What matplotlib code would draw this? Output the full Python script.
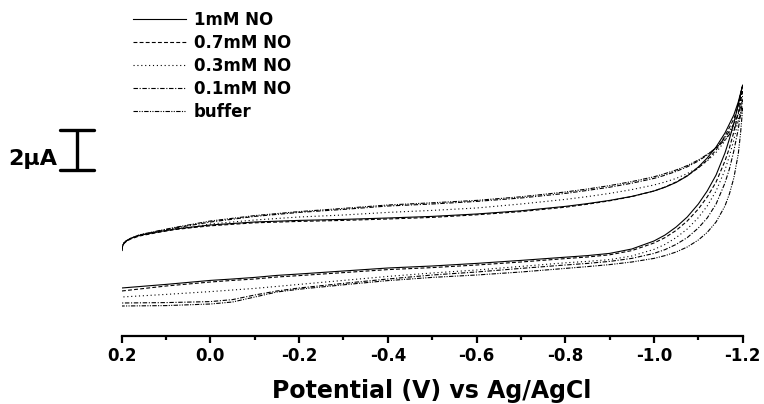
import matplotlib
matplotlib.use("Agg")
import matplotlib.pyplot as plt
from matplotlib.ticker import MultipleLocator
from matplotlib.transforms import blended_transform_factory

# ─── data (potential in V, current in µA, arbitrary offset) ─────
labels = ["1mM NO", "0.7mM NO", "0.3mM NO", "0.1mM NO", "buffer"]

# forward sweep 0.2 -> -1.2 V (upper branch)
E_fwd = [0.2, 0.198, 0.195, 0.19, 0.18, 0.16, 0.12, 0.08, 0.04, 0.0,
         -0.1, -0.2, -0.3, -0.4, -0.5, -0.6, -0.7, -0.8, -0.85, -0.9,
         -0.95, -1.0, -1.025, -1.05, -1.075, -1.1, -1.12, -1.14, -1.16,
         -1.18, -1.19, -1.2]
# return sweep -1.2 -> 0.2 V (lower branch)
E_rev = [-1.2, -1.195, -1.19, -1.18, -1.17, -1.16, -1.14, -1.12, -1.1,
         -1.075, -1.05, -1.025, -1.0, -0.95, -0.9, -0.85, -0.8, -0.7, -0.6,
         -0.5, -0.4, -0.3, -0.2, -0.15, -0.1, -0.05, 0.0, 0.1, 0.2]

i_fwd_1mM = [2.00, 2.20, 2.35, 2.45, 2.58, 2.73, 2.90, 3.05, 3.15, 3.25,
             3.40, 3.48, 3.53, 3.60, 3.68, 3.80, 3.96, 4.18, 4.32, 4.48,
             4.68, 4.95, 5.14, 5.38, 5.70, 6.15, 6.60, 7.15, 7.85, 8.75,
             9.40, 10.25]
i_fwd_07mM = [2.00, 2.18, 2.32, 2.42, 2.55, 2.70, 2.87, 3.02, 3.12, 3.21,
              3.36, 3.43, 3.48, 3.55, 3.63, 3.76, 3.92, 4.14, 4.29, 4.46,
              4.67, 4.95, 5.15, 5.40, 5.72, 6.10, 6.50, 7.00, 7.70, 8.55,
              9.20, 10.00]
i_fwd_03mM = [1.95, 2.20, 2.35, 2.45, 2.58, 2.73, 2.90, 3.05, 3.15, 3.30,
              3.50, 3.65, 3.75, 3.88, 3.98, 4.10, 4.30, 4.53, 4.67, 4.83,
              5.02, 5.25, 5.40, 5.58, 5.82, 6.12, 6.45, 6.88, 7.45, 8.25,
              8.85, 9.70]
i_fwd_01mM = [1.95, 2.20, 2.35, 2.45, 2.58, 2.75, 2.93, 3.10, 3.25, 3.40,
              3.68, 3.88, 4.03, 4.20, 4.30, 4.43, 4.60, 4.83, 4.98, 5.14,
              5.34, 5.58, 5.74, 5.93, 6.16, 6.45, 6.75, 7.12, 7.60, 8.30,
              8.80, 9.50]
i_fwd_buf = [1.95, 2.20, 2.35, 2.45, 2.58, 2.76, 2.95, 3.13, 3.29, 3.45,
             3.72, 3.92, 4.08, 4.25, 4.36, 4.48, 4.66, 4.90, 5.05, 5.22,
             5.42, 5.66, 5.82, 6.00, 6.22, 6.50, 6.78, 7.10, 7.50, 8.05,
             8.45, 9.10]

i_rev_1mM = [10.25, 9.75, 9.25, 8.35, 7.55, 6.85, 5.75, 4.95, 4.30, 3.65,
             3.15, 2.75, 2.45, 2.05, 1.83, 1.72, 1.64, 1.48, 1.33, 1.20,
             1.10, 0.95, 0.80, 0.73, 0.63, 0.55, 0.48, 0.28, 0.10]
i_rev_07mM = [10.00, 9.40, 8.85, 7.90, 7.10, 6.45, 5.40, 4.65, 4.05, 3.45,
              2.98, 2.62, 2.35, 1.97, 1.76, 1.65, 1.57, 1.40, 1.25, 1.12,
              1.02, 0.87, 0.72, 0.65, 0.55, 0.48, 0.40, 0.20, -0.05]
i_rev_03mM = [9.70, 9.10, 8.50, 7.50, 6.70, 6.00, 4.95, 4.20, 3.62, 3.05,
              2.62, 2.28, 2.03, 1.70, 1.52, 1.43, 1.36, 1.18, 1.00, 0.85,
              0.68, 0.48, 0.28, 0.18, 0.08, 0.00, -0.08, -0.22, -0.35]
i_rev_01mM = [9.50, 8.75, 8.05, 6.95, 6.05, 5.35, 4.30, 3.60, 3.10, 2.62,
              2.28, 2.02, 1.83, 1.58, 1.43, 1.33, 1.25, 1.08, 0.90, 0.75,
              0.55, 0.33, 0.10, -0.05, -0.25, -0.48, -0.58, -0.63, -0.65]
i_rev_buf = [9.10, 7.80, 6.80, 5.60, 4.80, 4.20, 3.40, 2.88, 2.50, 2.15,
             1.90, 1.72, 1.58, 1.40, 1.27, 1.17, 1.08, 0.90, 0.75, 0.63,
             0.47, 0.26, 0.04, -0.10, -0.35, -0.60, -0.70, -0.78, -0.80]

fwd = [i_fwd_1mM, i_fwd_07mM, i_fwd_03mM, i_fwd_01mM, i_fwd_buf]
rev = [i_rev_1mM, i_rev_07mM, i_rev_03mM, i_rev_01mM, i_rev_buf]

x_ticks = [0.2, 0.0, -0.2, -0.4, -0.6, -0.8, -1.0, -1.2]

styles = ["-", (0, (3.5, 2)), (0, (1, 2.5)),
          (0, (4, 1.5, 1, 1.5)), (0, (4, 1.2, 1, 1.2, 1, 1.2))]

# ─── figure ──────────────────────────────────────────────────────
plt.rcParams["font.family"] = ["DejaVu Sans"]
plt.rcParams["font.weight"] = "bold"

fig = plt.figure(figsize=(7.64, 4.04), dpi=100)
ax = fig.add_axes([121.7 / 764, 68.3 / 404, 621 / 764, 335.7 / 404])

for lab, f, r, ls in zip(labels, fwd, rev, styles):
    ax.plot(E_fwd + E_rev, f + r, color="black", lw=0.8, linestyle=ls,
            label=lab)

ax.set_xlim(0.2, -1.2)
ax.set_ylim(-2.285, 14.5)

for s in ("top", "right", "left"):
    ax.spines[s].set_visible(False)
ax.spines["bottom"].set_linewidth(1.6)
ax.set_yticks([])
ax.set_xticks(x_ticks)
ax.set_xticklabels([f"{v:.1f}" for v in x_ticks])
ax.xaxis.set_minor_locator(MultipleLocator(0.1))
ax.tick_params(axis="x", which="major", direction="out", length=5,
               width=1.6, pad=3, labelsize=12)
ax.tick_params(axis="x", which="minor", direction="out", length=3,
               width=1.6)

fig.text(432 / 764, 1 - 398.3 / 404, "Potential (V) vs Ag/AgCl",
         ha="center", va="baseline", fontsize=17, fontweight="bold")

# legend, top left
fig.legend(loc="upper left", bbox_to_anchor=(133 / 764, 1 - 11 / 404),
           frameon=False, handlelength=3.2, handletextpad=0.45,
           labelspacing=0.3, borderpad=0, borderaxespad=0,
           prop={"weight": "bold", "size": 12})

# 2 µA scale bar
tr = blended_transform_factory(ax.transAxes, ax.transData)
bar_lo, bar_len = 6.0, 2.0
bx, cw = -0.072, 0.0275
ax.plot([bx, bx], [bar_lo, bar_lo + bar_len], color="black", lw=2.4,
        transform=tr, clip_on=False, solid_capstyle="butt")
for yy in (bar_lo, bar_lo + bar_len):
    ax.plot([bx - cw, bx + cw], [yy, yy], color="black", lw=2.4,
            transform=tr, clip_on=False, solid_capstyle="round")
ax.text(-0.1428, 6.25, "2\u00b5A", transform=tr, ha="center",
        va="baseline", fontsize=16, fontweight="bold")

fig.savefig("out.png", dpi=100)
